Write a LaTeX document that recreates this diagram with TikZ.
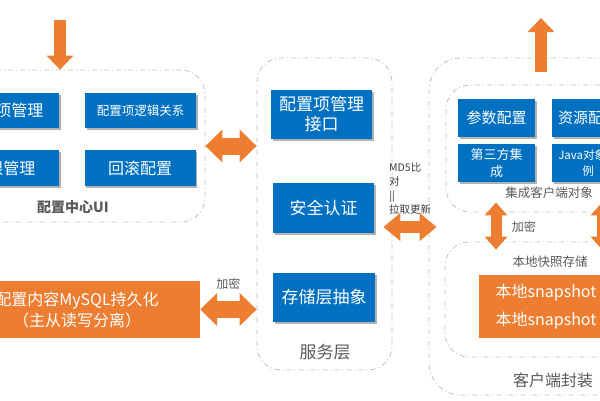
\documentclass[tikz,border=0pt]{standalone}
\usepackage{fontspec}
\setmainfont{Noto Sans CJK SC}
\usetikzlibrary{arrows.meta,shadows}
\definecolor{boxblue}{RGB}{0,112,192}
\definecolor{boxorange}{RGB}{237,125,49}
\definecolor{linegray}{RGB}{191,191,191}
\definecolor{labelgray}{RGB}{89,89,89}
\begin{document}
\begin{tikzpicture}[x=1pt,y=-1pt]
        \tikzstyle{group}=[draw=linegray, line width=0.8pt, dash pattern=on 5pt off 3pt on 1pt off 3pt, rounded corners=24pt, inner sep=0pt];
        \tikzstyle{bluebox}=[fill=boxblue, text=white, inner sep=0pt, align=center, drop shadow={shadow xshift=1.5pt, shadow yshift=-1.5pt, fill=black, opacity=0.3}];
        \tikzstyle{orangebox}=[fill=boxorange, text=white, inner sep=0pt, align=center];
        \tikzstyle{grouplabel}=[text=labelgray, inner sep=0pt];
        \tikzstyle{fat}=[draw=boxorange, line width=12pt, -{Triangle[width=26pt,length=14pt]}];
        \tikzstyle{fatboth}=[draw=boxorange, line width=17pt, {Triangle[width=32pt,length=17pt]}-{Triangle[width=32pt,length=17pt]}];
        \tikzstyle{thinboth}=[draw=boxorange, line width=12pt, {Triangle[width=27pt,length=17pt]}-{Triangle[width=27pt,length=17pt]}];
        \tikzstyle{vboth}=[draw=boxorange, line width=11pt, {Triangle[width=22pt,length=13pt]}-{Triangle[width=22pt,length=13pt]}];
        \useasboundingbox (0,0) rectangle (600,400);
        \clip (0,0) rectangle (600,400);
        % groups
        \node[group, minimum width=245pt, minimum height=152pt] (ui) at (82.5,146) {};
        \node[group, minimum width=135pt, minimum height=312pt] (svc) at (324.5,214) {};
        \node[group, minimum width=231pt, minimum height=337pt, rounded corners=32pt] (cout) at (544.5,226.5) {};
        \node[group, minimum width=214pt, minimum height=127pt] (cin1) at (553,148.5) {};
        \node[group, minimum width=215pt, minimum height=115pt] (cin2) at (552.5,299.5) {};
        % config center UI
        \node[bluebox, minimum width=111pt, minimum height=35pt, font=\fontsize{16}{20}\selectfont] (itemmgr) at (3.5,110.5) {配置项管理};
        \node[bluebox, minimum width=111pt, minimum height=35pt, font=\fontsize{12.5}{15}\selectfont] (itemrel) at (140.5,110.5) {配置项逻辑关系};
        \node[bluebox, minimum width=111pt, minimum height=36pt, font=\fontsize{16}{20}\selectfont] (permmgr) at (3.5,168) {权限管理};
        \node[bluebox, minimum width=111pt, minimum height=36pt, font=\fontsize{16}{20}\selectfont] (rollback) at (140,168) {回滚配置};
        \node[grouplabel, font=\fontsize{14}{17}\selectfont\bfseries] (uilabel) at (73,207) {配置中心UI};
        % service layer
        \node[bluebox, minimum width=101pt, minimum height=49pt, font=\fontsize{17}{20}\selectfont] (api) at (321.5,114.5) {配置项管理\\接口};
        \node[bluebox, minimum width=101pt, minimum height=50pt, font=\fontsize{17}{20}\selectfont] (auth) at (323.5,208) {安全认证};
        \node[bluebox, minimum width=102pt, minimum height=49pt, font=\fontsize{17}{20}\selectfont] (store) at (324,297.5) {存储层抽象};
        \node[grouplabel, font=\fontsize{17}{20}\selectfont] (svclabel) at (325,352) {服务层};
        % storage
        \node[orangebox, minimum width=246pt, minimum height=57pt, font=\fontsize{16}{21}\selectfont] (mysql) at (77,309.5) {配置内容MySQL持久化\\（主从读写分离）};
        % client
        \node[bluebox, minimum width=77pt, minimum height=38pt, font=\fontsize{15}{18}\selectfont] (param) at (496.5,118) {参数配置};
        \node[bluebox, minimum width=72pt, minimum height=38pt, font=\fontsize{15}{18}\selectfont] (res) at (588,118) {资源配置};
        \node[bluebox, minimum width=77pt, minimum height=38pt, font=\fontsize{13}{17}\selectfont] (third) at (496.5,163) {第三方集\\成};
        \node[bluebox, minimum width=72pt, minimum height=38pt, font=\fontsize{11.5}{16}\selectfont] (java) at (588,163) {Java对象实\\例};
        \node[grouplabel, font=\fontsize{12.5}{15}\selectfont] (cin1label) at (549,193) {集成客户端对象};
        \node[grouplabel, font=\fontsize{12.5}{15}\selectfont] (cin2label) at (550,262) {本地快照存储};
        \node[orangebox, minimum width=134pt, minimum height=63pt, font=\fontsize{16}{28}\selectfont] (snap) at (546,306.5) {本地snapshot\\本地snapshot};
        \node[grouplabel, font=\fontsize{16}{20}\selectfont] (coutlabel) at (553,380) {客户端封装};
        % arrows
        \coordinate (src) at (60,20);
        \coordinate (dst) at (541,18);
        \coordinate (lk) at (496,0);
        \coordinate (rk) at (602,0);
        \draw[fat] (src) -- (src |- ui.north);
        \draw[fat, shorten <=13pt] (dst |- cin1.north) -- (dst);
        \draw[fatboth] (ui.east) -- (ui.east -| svc.west);
        \draw[fatboth] (mysql.east) -- (mysql.east -| svc.west) node[midway, above=8pt, text=labelgray, font=\fontsize{12}{14}\selectfont] {加密};
        \draw[thinboth, shorten <=-9pt, shorten >=-8pt] ([yshift=-13pt]svc.east) -- ([yshift=-13pt]svc.east -| cout.west);
        \draw[vboth, shorten <=-10pt, shorten >=-8pt] (lk |- cin1.south) -- (lk |- cin2.north) node[midway, right=7pt, text=labelgray, font=\fontsize{12}{14}\selectfont] {加密};
        \draw[vboth, shorten <=-10pt, shorten >=-8pt] (rk |- cin1.south) -- (rk |- cin2.north);
        \node[anchor=north west, align=left, text=labelgray!70!black, inner sep=0pt, font=\fontsize{10.5}{14}\selectfont] (md5) at (389,163) {MD5比\\对\\||\\拉取更新};
\end{tikzpicture}
\end{document}
